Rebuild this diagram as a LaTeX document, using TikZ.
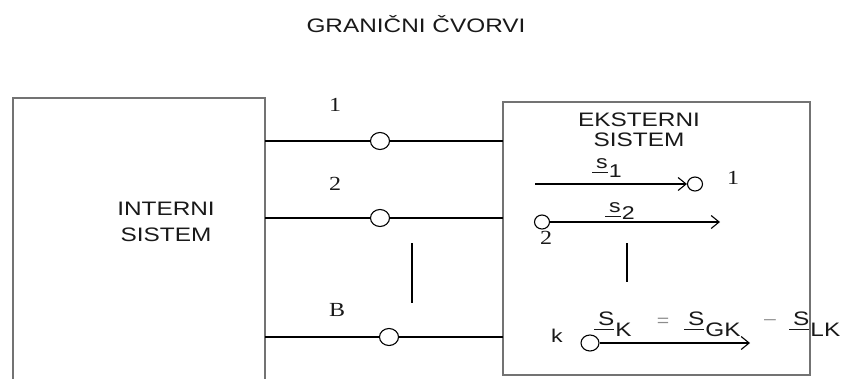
\documentclass[tikz,border=0pt]{standalone}
\usepackage{fontspec}
\setmainfont{Liberation Serif}
\newfontfamily\sfw[FakeStretch=1.25]{Liberation Sans}
\newfontfamily\rmw[FakeStretch=1.2]{Liberation Serif}
\usetikzlibrary{arrows.meta,shapes.geometric}
\newcommand\ulsym[3]{%
  \setbox0\hbox{#2}%
  \raisebox{#1}{\rlap{\kern-4pt\rule[-5pt]{\dimexpr\wd0+4pt\relax}{1.3pt}}\box0}\kern1pt#3}
\tikzset{
  frame/.style={draw=black!55, line width=1.8pt},
  wire/.style={draw=black, line width=1.2pt},
  term/.style={ellipse, draw=black, line width=1.1pt, fill=white, inner sep=0pt, minimum width=19pt, minimum height=17pt},
  smallterm/.style={term, minimum width=15pt, minimum height=14pt},
  caps/.style={font=\sfw\fontsize{19.5}{20}\selectfont, text=black!90, inner sep=0pt},
  num/.style={font=\rmw\fontsize{20}{20}\selectfont, text=black!90, inner sep=0pt},
  slab/.style={font=\sfw\fontsize{18.5}{18}\selectfont, text=black!90, inner sep=0pt, anchor=base west},
  blab/.style={font=\sfw\fontsize{19.5}{20}\selectfont, text=black!90, inner sep=0pt, anchor=base west},
  vec/.style={wire, -{Straight Barb[length=8pt,width=13pt,line width=1.1pt]}},
  bar/.style={draw=black, line width=2pt}
}
\begin{document}
\begin{tikzpicture}[x=1pt,y=-1pt]
\useasboundingbox (0,0) rectangle (845,378);
\clip (0,0) rectangle (845,378);
% title
\node[caps] (title) at (416,24) {GRANIČNI ČVORVI};
% boxes
\coordinate (Ltl) at (13,98);
\coordinate (Lbr) at (265,420);
\draw[frame] (Ltl) rectangle (Lbr);
\coordinate (Rtl) at (503,102);
\coordinate (Rbr) at (810,375);
\draw[frame] (Rtl) rectangle (Rbr);
\node[caps, align=center, text width=130pt, font=\sfw\fontsize{19.5}{26}\selectfont] (int) at (166,222) {INTERNI\\SISTEM};
\node[caps, align=center, text width=140pt, font=\sfw\fontsize{19.5}{20}\selectfont] (ext) at (639,130) {EKSTERNI\\SISTEM};
% boundary terminals
\node[term] (c1) at (380,141) {};
\node[term] (c2) at (380,218) {};
\node[term] (cB) at (389,337) {};
\draw[wire] (c1 -| Lbr) -- (c1) -- (c1 -| Rtl);
\draw[wire] (c2 -| Lbr) -- (c2) -- (c2 -| Rtl);
\draw[wire] (cB -| Lbr) -- (cB) -- (cB -| Rtl);
\node[num] (n1) at (335,105) {1};
\node[num] (n2) at (335,184) {2};
\node[num] (nB) at (337,310) {B};
\coordinate (lb1) at (412,243);
\coordinate (lb2) at (412,303);
\draw[bar] (lb1) -- (lb2);
% external system vectors
\node[smallterm] (cs1) at (695,184) {};
\coordinate (s1start) at (535,184);
\draw[vec] (s1start) -- (cs1.west);
\node[num] (e1) at (733,178) {1};
\node[slab] (l1) at (596,177) {\ulsym{9pt}{s}{1}};
\node[num] (e2) at (546,238) {2};
\node[smallterm] (cs2) at (542,222) {};
\coordinate (s2end) at (720,222);
\draw[vec] (cs2.east) -- (s2end);
\node[slab] (l2) at (609,219) {\ulsym{7pt}{s}{2}};
\coordinate (rb1) at (627,243);
\coordinate (rb2) at (627,282);
\draw[bar] (rb1) -- (rb2);
% node k
\node[term, minimum width=18pt, minimum height=16pt] (ck) at (590,343) {};
\coordinate (kend) at (750,343);
\draw[vec] (ck.east) -- (kend);
\node[caps, font=\sfw\fontsize{18.5}{20}\selectfont] (k) at (557,336) {k};
\node[blab] (sK) at (598,336) {\ulsym{11pt}{S}{K}};
\node[caps, text=black!45, font=\sfw\fontsize{17}{18}\selectfont] (eq) at (663,322) {=};
\node[blab] (sGK) at (688,336) {\ulsym{11pt}{S}{GK}};
\node[caps, text=black!45, font=\sfw\fontsize{17}{18}\selectfont] (mi) at (770,322) {–};
\node[blab] (sLK) at (793,336) {\ulsym{11pt}{S}{LK}};
\end{tikzpicture}
\end{document}
